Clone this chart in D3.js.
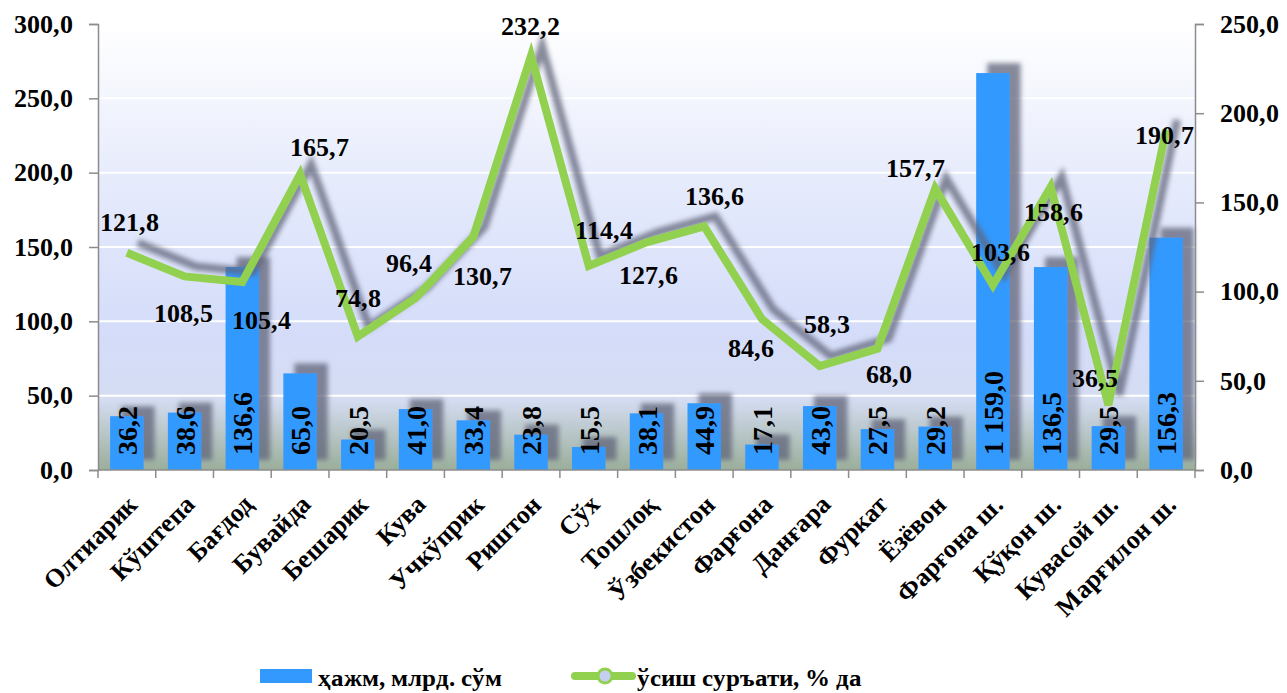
<!DOCTYPE html>
<html>
<head>
	<meta charset="utf-8">
	<script src="https://d3js.org/d3.v7.min.js"></script>
	<style type="text/css">
		@font-face {
			font-family: "ChartSerif";
			src: local("Liberation Serif Bold"), local("LiberationSerif-Bold"), local("Tinos Bold"), local("DejaVu Serif Bold");
			font-weight: bold;
		}
		@font-face {
			font-family: "ChartSerif";
			src: local("Liberation Serif"), local("LiberationSerif"), local("Tinos"), local("DejaVu Serif");
			font-weight: normal;
		}
		body { margin: 0; }
		svg text { font-family: "ChartSerif", "Liberation Serif", serif !important; font-weight: bold; }
	</style>
</head>
<body>

<script type="text/javascript">
// districts / cities
var categories = ["Олтиарик", "Кўштепа", "Бағдод", "Бувайда", "Бешарик", "Кува", "Учкўприк", "Риштон", "Сўх", "Тошлоқ",
	"Ўзбекистон", "Фарғона", "Данғара", "Фуркат", "Ёзёвон", "Фарғона ш.", "Қўқон ш.", "Кувасой ш.", "Марғилон ш."];

// volume, bln. sum (left axis)
var volume = [36.2, 38.6, 136.6, 65.0, 20.5, 41.0, 33.4, 23.8, 15.5, 38.1, 44.9, 17.1, 43.0, 27.5, 29.2, 1159.0, 136.5, 29.5, 156.3];
// the off-scale bar is drawn at this height in the original
var volumeCap = 267;

// growth rate, % (right axis)
var growth = [121.8, 108.5, 105.4, 165.7, 74.8, 96.4, 130.7, 232.2, 114.4, 127.6, 136.6, 84.6, 58.3, 68.0, 157.7, 103.6, 158.6, 36.5, 190.7];

var leftTicks = [0, 50, 100, 150, 200, 250, 300];
var rightTicks = [0, 50, 100, 150, 200, 250];

// where each growth label sits relative to its point (layout only)
var growthLabelOffset = [[3, -31], [-1, 36], [19, 38], [19, -27], [0, -39], [-7, -35], [9, 39], [-1, -30], [15, -36], [2, 33],
	[10, -30], [-11, 29], [7, -42], [12, 25], [-20, -21], [8, -33], [3, 25], [-13, -27], [-2, 5]];

var legendLabels = ["ҳажм, млрд. сўм", "ўсиш суръати, % да"];

var FONT = "Liberation Serif";

var W = 1287, H = 693;
var m = {left: 98, right: 92, top: 24, bottom: 223};
var iw = W - m.left - m.right, ih = H - m.top - m.bottom;

function fmt(v) {
	var s = v.toFixed(1).replace(".", ",");
	if (v >= 1000) s = s.replace(/^(\d)(\d{3})/, "$1 $2");
	return s;
}

// serif bold text helper
function label(sel, size) {
	return sel.attr("font-family", FONT)
		.attr("font-weight", "bold")
		.attr("font-size", size)
		.attr("fill", "#000");
}

var svg = d3.select("body").append("svg")
	.attr("width", W)
	.attr("height", H)
	.attr("font-family", FONT);

var defs = svg.append("defs");
var grad = defs.append("linearGradient")
	.attr("id", "bg")
	.attr("x1", 0).attr("y1", 0).attr("x2", 0).attr("y2", 1);
grad.append("stop").attr("offset", "0%").attr("stop-color", "#ffffff");
grad.append("stop").attr("offset", "35%").attr("stop-color", "#e6ebfc");
grad.append("stop").attr("offset", "70%").attr("stop-color", "#d4dcf9");
grad.append("stop").attr("offset", "84%").attr("stop-color", "#d5ddf3");
grad.append("stop").attr("offset", "100%").attr("stop-color", "#9aae9a");

var shadow = defs.append("filter")
	.attr("id", "shadow")
	.attr("x", "-10%").attr("y", "-20%").attr("width", "130%").attr("height", "140%");
shadow.append("feDropShadow")
	.attr("dx", 11).attr("dy", -10)
	.attr("stdDeviation", 2.5)
	.attr("flood-color", "#5f6478")
	.attr("flood-opacity", 0.75);

var g = svg.append("g").attr("transform", "translate(" + m.left + "," + m.top + ")");

var x = d3.scaleBand().domain(categories).range([0, iw]).paddingInner(0.42).paddingOuter(0.21);
var xc = function(d) { return x(d) + x.bandwidth() / 2; };
var yL = d3.scaleLinear().domain([0, 300]).range([ih, 0]);
var yR = d3.scaleLinear().domain([0, 250]).range([ih, 0]);

// plot background
g.append("rect")
	.attr("width", iw)
	.attr("height", ih)
	.attr("fill", "url(#bg)");

// gridlines
g.selectAll(".grid")
	.data(leftTicks.filter(function(d) { return d > 0 && d < 300; }))
	.enter().append("line")
	.attr("x1", 0).attr("x2", iw)
	.attr("y1", function(d) { return yL(d); })
	.attr("y2", function(d) { return yL(d); })
	.attr("stroke", "#ffffff")
	.attr("stroke-width", 2);

// bars
g.append("g")
	.attr("filter", "url(#shadow)")
	.selectAll("rect")
	.data(categories)
	.enter().append("rect")
	.attr("x", function(d) { return x(d); })
	.attr("width", x.bandwidth())
	.attr("y", function(d, i) { return yL(Math.min(volume[i], volumeCap)); })
	.attr("height", function(d, i) { return ih - yL(Math.min(volume[i], volumeCap)); })
	.attr("fill", "#3399ff");

// axes
var axisColor = "#8c8c8c";
var xAxis = g.append("g")
	.attr("transform", "translate(0," + ih + ")");
xAxis.append("line").attr("x1", 0).attr("x2", iw).attr("stroke", axisColor).attr("stroke-width", 1.5);
var bounds = d3.range(categories.length + 1).map(function(i) { return i * iw / categories.length; });
xAxis.selectAll(".tk")
	.data(bounds)
	.enter().append("line")
	.attr("x1", function(d) { return d; }).attr("x2", function(d) { return d; })
	.attr("y1", 0).attr("y2", 8)
	.attr("stroke", axisColor).attr("stroke-width", 1.5);

var leftAxis = d3.axisLeft(yL).tickValues(leftTicks).tickSize(9).tickPadding(16).tickFormat(fmt);
var la = g.append("g").call(leftAxis);
var rightAxis = d3.axisRight(yR).tickValues(rightTicks).tickSize(9).tickPadding(16).tickFormat(fmt);
var ra = g.append("g").attr("transform", "translate(" + iw + ",0)").call(rightAxis);
[la, ra].forEach(function(a) {
	a.attr("font-family", FONT);
	a.select(".domain").attr("stroke", axisColor).attr("stroke-width", 1.5);
	a.selectAll(".tick line").attr("stroke", axisColor).attr("stroke-width", 1.5);
	label(a.selectAll(".tick text"), 26);
});

// category labels
label(g.selectAll(".xl")
	.data(categories)
	.enter().append("text"), 26)
	.attr("transform", function(d) { return "translate(" + (xc(d) + 12) + "," + (ih + 36) + ") rotate(-45)"; })
	.attr("text-anchor", "end")
	.text(function(d) { return d; });

// growth line
var growthLine = d3.line()
	.x(function(d, i) { return xc(categories[i]); })
	.y(function(d) { return yR(d); });

g.append("path")
	.datum(growth)
	.attr("d", growthLine)
	.attr("fill", "none")
	.attr("stroke", "#92d050")
	.attr("stroke-width", 8)
	.attr("stroke-linejoin", "miter")
	.attr("filter", "url(#shadow)");

// bar value labels
label(g.selectAll(".bl")
	.data(categories)
	.enter().append("text"), 28)
	.attr("transform", function(d) { return "translate(" + (xc(d) + 10) + "," + (ih - 15) + ") rotate(-90)"; })
	.attr("text-anchor", "start")
	.text(function(d, i) { return fmt(volume[i]); });

// growth value labels
label(g.selectAll(".gl")
	.data(categories)
	.enter().append("text"), 26)
	.attr("x", function(d, i) { return xc(d) + growthLabelOffset[i][0]; })
	.attr("y", function(d, i) { return yR(growth[i]) + growthLabelOffset[i][1]; })
	.attr("dy", "0.35em")
	.attr("text-anchor", "middle")
	.text(function(d, i) { return fmt(growth[i]); });

// legend
var lg = svg.append("g").attr("transform", "translate(260,676)");
lg.append("rect").attr("x", 0).attr("y", -7).attr("width", 52).attr("height", 14).attr("fill", "#3399ff");
label(lg.append("text"), 25).attr("x", 58).attr("y", 10).text(legendLabels[0]);
lg.append("line").attr("x1", 315).attr("x2", 372).attr("y1", 0).attr("y2", 0)
	.attr("stroke", "#92d050").attr("stroke-width", 8).attr("stroke-linecap", "round");
lg.append("circle").attr("cx", 345).attr("cy", 0).attr("r", 7)
	.attr("fill", "#c5cff2").attr("stroke", "#92d050").attr("stroke-width", 3);
label(lg.append("text"), 25).attr("x", 377).attr("y", 10).text(legendLabels[1]);
</script>
</body>
</html>
